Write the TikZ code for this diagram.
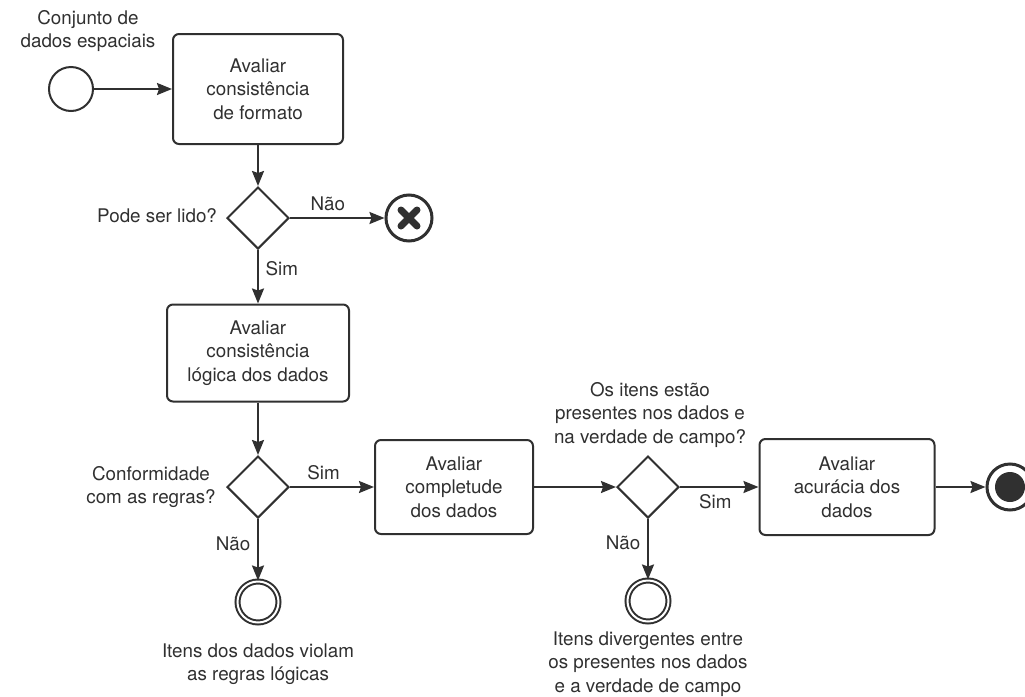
\documentclass[tikz,border=0pt]{standalone}
\usepackage{fontspec}
\setmainfont{TeX Gyre Heros}
\usetikzlibrary{arrows.meta,shapes.geometric}
\definecolor{linha}{HTML}{303030}
\newcommand{\rotulo}{\fontsize{9.4}{11.8}\selectfont}
\tikzset{%
  tarefa/.style   = {shape=rectangle, rounded corners=3pt,%
                     draw=linha, line width=1pt, align=center, inner sep=0pt},%
  decisao/.style  = {shape=diamond, draw=linha, line width=1pt,%
                     inner sep=0pt, minimum width=31pt, minimum height=31pt},%
  inicio/.style   = {circle, draw=linha, line width=1pt, inner sep=0pt, minimum size=22pt},%
  fim/.style      = {circle, draw=linha, line width=1pt, double, double distance=1pt,%
                     inner sep=0pt, minimum size=20.5pt},%
  fimtotal/.style = {circle, draw=linha, line width=1.5pt, inner sep=0pt, minimum size=23pt,%
                     path picture={\fill[linha] (path picture bounding box.center) circle (7.5pt);}},%
  fimerro/.style  = {circle, draw=linha, line width=1.5pt, inner sep=0pt, minimum size=23pt,%
                     path picture={\draw[linha, line width=3.5pt, line cap=round]
                       ([shift={(-4pt,-4pt)}]path picture bounding box.center) --
                       ([shift={(4pt,4pt)}]path picture bounding box.center)
                       ([shift={(-4pt,4pt)}]path picture bounding box.center) --
                       ([shift={(4pt,-4pt)}]path picture bounding box.center);}},%
  fluxo/.style    = {draw=linha, line width=1pt, ->},%
  texto/.style    = {align=center}%
}
\begin{document}
\begin{tikzpicture}[x=0.5pt,y=-0.5pt,every node/.style={font=\rotulo,text=linha},>={Stealth[length=7.5pt,width=6pt,inset=1pt]}]
	\useasboundingbox (0,0) rectangle (1025,697);
	\node[inicio] (inicio) at (71,89) {};
	\node[texto] (rotInicio) at (88,31) {Conjunto de\\dados espaciais};
	\node[tarefa, minimum width=85pt, minimum height=55pt] (formato) at (258,89) {Avaliar\\consistência\\de formato};
	\node[decisao] (lido) at (258,218) {};
	\node[anchor=east] (rotLido) at (224,216) {Pode ser lido?};
	\node[fimerro] (erro) at (409,218) {};
	\node[tarefa, minimum width=91pt, minimum height=48.5pt] (logica) at (258,353) {Avaliar\\consistência\\lógica dos dados};
	\node[decisao] (regras) at (258,487) {};
	\node[texto] (rotRegras) at (151,487) {Conformidade\\com as regras?};
	\node[fim] (violam) at (258,602) {};
	\node[texto] (rotViolam) at (258,664) {Itens dos dados violam\\as regras lógicas};
	\node[tarefa, minimum width=79pt, minimum height=47pt] (completude) at (454,487) {Avaliar\\completude\\dos dados};
	\node[decisao] (campo) at (648,487) {};
	\node[texto] (rotCampo) at (650,415) {Os itens estão\\presentes nos dados e\\na verdade de campo?};
	\node[fim] (divergem) at (648,601) {};
	\node[texto] (rotDivergem) at (648,664) {Itens divergentes entre\\os presentes nos dados\\e a verdade de campo};
	\node[tarefa, minimum width=87.5pt, minimum height=48pt] (acuracia) at (847,487) {Avaliar\\acurácia dos\\dados};
	\node[fimtotal] (final) at (1010,487) {};

	\draw[fluxo] (inicio) -- (formato);
	\draw[fluxo] (formato) -- (lido);
	\draw[fluxo] (lido) -- node[above, pos=0.4] {Não} (erro);
	\draw[fluxo] (lido) -- node[right, pos=0.35] {Sim} (logica);
	\draw[fluxo] (logica) -- (regras);
	\draw[fluxo] (regras) -- node[above, pos=0.4] {Sim} (completude);
	\draw[fluxo] (regras) -- node[left, pos=0.4] {Não} (violam);
	\draw[fluxo] (completude) -- (campo);
	\draw[fluxo] (campo) -- node[below, pos=0.45] {Sim} (acuracia);
	\draw[fluxo] (campo) -- node[left, pos=0.4] {Não} (divergem);
	\draw[fluxo] (acuracia) -- (final);
\end{tikzpicture}
\end{document}
